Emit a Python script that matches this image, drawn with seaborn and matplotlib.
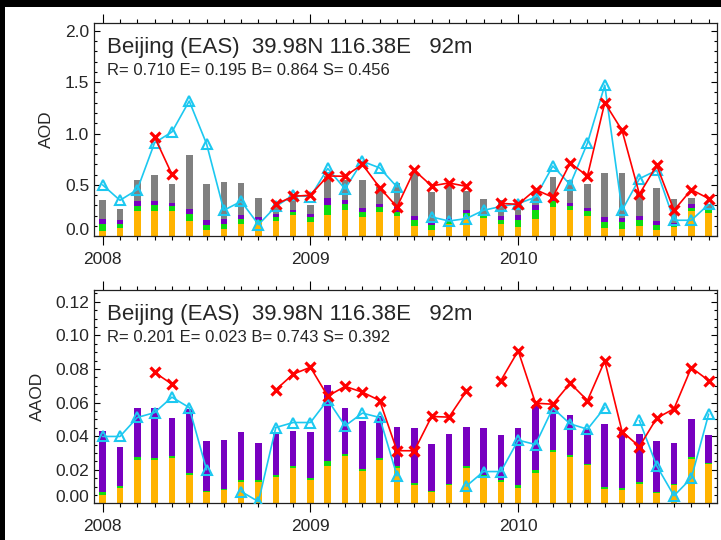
import numpy as np
import pandas as pd
import matplotlib
matplotlib.use("Agg")
import matplotlib.pyplot as plt
from matplotlib.patches import Rectangle
import seaborn as sns

# ---------------- data ----------------
months = np.arange(36)                       # Jan 2008 ... Dec 2010
year_ticks = [0, 12, 24]
year_labels = ["2008", "2009", "2010"]
nan = np.nan

# Top panel (AOD): cumulative tops of the stacked bars
aod_total = [0.35, 0.27, 0.545, 0.60, 0.51, 0.795, 0.51, 0.525, 0.52, 0.37, 0.33, 0.38,
             0.30, 0.59, 0.545, 0.545, 0.48, 0.52, 0.625, 0.43, 0.50, 0.44, 0.367, 0.35,
             0.34, 0.38, 0.577, 0.545, 0.51, 0.62, 0.62, 0.43, 0.47, 0.367, 0.37, 0.31]
aod_purple = [0.17, 0.155, 0.34, 0.34, 0.32, 0.265, 0.155, 0.165, 0.204, 0.19, 0.22, 0.26,
              0.214, 0.373, 0.35, 0.272, 0.311, 0.285, 0.20, 0.146, 0.18, 0.26, 0.215, 0.20,
              0.204, 0.30, 0.38, 0.324, 0.275, 0.188, 0.18, 0.195, 0.149, 0.13, 0.31, 0.27]
aod_green = [0.117, 0.123, 0.29, 0.30, 0.29, 0.214, 0.113, 0.123, 0.165, 0.155, 0.19, 0.24,
             0.185, 0.308, 0.314, 0.233, 0.282, 0.236, 0.155, 0.107, 0.155, 0.23, 0.205, 0.162,
             0.162, 0.253, 0.34, 0.295, 0.246, 0.139, 0.139, 0.155, 0.107, 0.11, 0.28, 0.255]
aod_orange = [0.05, 0.085, 0.243, 0.243, 0.243, 0.146, 0.058, 0.071, 0.117, 0.14, 0.15, 0.204,
              0.136, 0.204, 0.26, 0.185, 0.236, 0.194, 0.10, 0.058, 0.12, 0.188, 0.18, 0.117,
              0.09, 0.172, 0.285, 0.253, 0.20, 0.08, 0.071, 0.097, 0.058, 0.09, 0.25, 0.222]
aod_cyan = [0.50, 0.35, 0.454, 0.91, 1.015, 1.316, 0.90, 0.253, 0.34, 0.114, 0.29, 0.40,
            0.385, 0.66, 0.46, 0.73, 0.665, 0.48, nan, 0.188, 0.149, 0.172, 0.253, 0.29,
            0.318, 0.38, 0.684, 0.503, 0.907, 1.47, 0.253, 0.56, 0.642, 0.156, 0.156, 0.311]
aod_red = [nan, nan, nan, 0.966, 0.603, nan, nan, nan, nan, nan, 0.311, 0.389,
           0.40, 0.587, 0.584, 0.70, 0.474, 0.285, 0.642, 0.49, 0.519, 0.486, nan, 0.32,
           0.311, 0.454, 0.38, 0.713, 0.587, 1.30, 1.03, 0.41, 0.69, 0.253, 0.454, 0.367]

# Bottom panel (AAOD)
aaod_purple = [0.0432, 0.0338, 0.0567, 0.057, 0.0507, 0.056, 0.0368, 0.0374, 0.0424, 0.0358, 0.0427, 0.0433,
               0.0424, 0.0705, 0.057, 0.0491, 0.052, 0.0455, 0.0448, 0.0352, 0.0412, 0.0454, 0.0448, 0.0408,
               0.0448, 0.0586, 0.056, 0.0523, 0.044, 0.0473, 0.0427, 0.0412, 0.0372, 0.0358, 0.0501, 0.0408]
aaod_green = [0.007, 0.0104, 0.0275, 0.0269, 0.0279, 0.018, 0.0076, 0.0086, 0.0136, 0.0136, 0.017, 0.0225,
              0.015, 0.0253, 0.0293, 0.0204, 0.0269, 0.0225, 0.012, 0.0074, 0.0114, 0.0225, 0.017, 0.014,
              0.011, 0.02, 0.0318, 0.0289, 0.0235, 0.0096, 0.009, 0.0124, 0.007, 0.0116, 0.0273, 0.0241]
aaod_orange = [0.0051, 0.0094, 0.0259, 0.0255, 0.0269, 0.0166, 0.0067, 0.008, 0.0128, 0.0127, 0.0156, 0.0213,
               0.0136, 0.0223, 0.0279, 0.0193, 0.0259, 0.0213, 0.0106, 0.0067, 0.0106, 0.0213, 0.016, 0.0126,
               0.0094, 0.018, 0.0308, 0.0275, 0.0229, 0.0086, 0.008, 0.0114, 0.006, 0.0106, 0.0265, 0.0235]
aaod_cyan = [0.0398, 0.0398, 0.0511, 0.054, 0.0632, 0.057, 0.02, nan, 0.007, 0.001, 0.0451, 0.0481,
             0.0481, 0.0616, 0.0461, 0.0537, 0.0511, 0.0164, nan, nan, nan, 0.0102, 0.0189, 0.0189,
             0.0376, 0.035, 0.0567, 0.0473, 0.0441, 0.057, nan, 0.0493, 0.0223, 0.0045, 0.015, 0.0531]
aaod_red = [nan, nan, nan, 0.0779, 0.071, nan, nan, nan, nan, nan, 0.0676, 0.0769,
            0.081, 0.0638, 0.0696, 0.0662, 0.0612, 0.0313, 0.0313, 0.0517, 0.0513, 0.0666, nan, 0.0731,
            0.0908, 0.0596, 0.059, 0.0715, 0.0612, 0.0848, 0.0427, 0.0338, 0.0507, 0.0563, 0.0808, 0.0731]

title_text = "Beijing (EAS)  39.98N 116.38E   92m"
stats_top = "R= 0.710 E= 0.195 B= 0.864 S= 0.456"
stats_bottom = "R= 0.201 E= 0.023 B= 0.743 S= 0.392"

# ---------------- style ----------------
C_GRAY = "#808080"
C_PURPLE = "#7800c0"
C_GREEN = "#10dc10"
C_ORANGE = "#ffb400"
C_CYAN = "#1cc8f0"
C_RED = "#ff0000"

sns.set_style("white")
plt.rcParams["font.family"] = ["Liberation Sans", "DejaVu Sans"]

fig = plt.figure(figsize=(7.21, 5.40), dpi=100)
fig.patch.set_facecolor("white")
L, R = 94 / 721, 717.3 / 721
ax1 = fig.add_axes([L, 1 - 236.3 / 540, R - L, (236.3 - 22.7) / 540])
ax2 = fig.add_axes([L, 1 - 503.3 / 540, R - L, (503.3 - 290) / 540])


def bars(ax, levels, colors):
    for vals, col in zip(levels, colors):
        sns.barplot(x=months, y=vals, native_scale=True, width=0.38, color=col,
                    saturation=1, errorbar=None, linewidth=0, ax=ax, zorder=2)


def seg_line(ax, vals, color, marker, ms, mew, mfc):
    v = np.asarray(vals, dtype=float)
    seg = np.cumsum(np.isnan(v))
    df = pd.DataFrame({"m": months, "v": v, "seg": seg}).dropna()
    sns.lineplot(data=df, x="m", y="v", units="seg", estimator=None, sort=False,
                 color=color, lw=1.2, marker=marker, markersize=ms,
                 markeredgewidth=mew, markeredgecolor=color, markerfacecolor=mfc,
                 ax=ax, zorder=3, legend=False)


bars(ax1, [aod_total, aod_purple, aod_green, aod_orange], [C_GRAY, C_PURPLE, C_GREEN, C_ORANGE])
seg_line(ax1, aod_cyan, C_CYAN, "^", 7.5, 1.5, "none")
seg_line(ax1, aod_red, C_RED, "x", 7.0, 2.3, C_RED)

bars(ax2, [aaod_purple, aaod_green, aaod_orange], [C_PURPLE, C_GREEN, C_ORANGE])
seg_line(ax2, aaod_cyan, C_CYAN, "^", 7.5, 1.5, "none")
seg_line(ax2, aaod_red, C_RED, "x", 7.0, 2.3, C_RED)


def style_axes(ax, ylim, major, major_labels, minor, zero_label, ylabel, ylab_x):
    ax.set_xlim(-0.5, 35.5)
    ax.set_ylim(*ylim)
    ax.set_xticks(year_ticks, year_labels)
    ax.set_xticks(months, minor=True)
    ax.set_yticks(major, major_labels)
    ax.set_yticks(minor, minor=True)
    ax.set_xlabel("")
    ax.set_ylabel(ylabel, fontsize=12.5)
    ax.yaxis.set_label_coords(ylab_x, 0.5)
    ax.tick_params(axis="x", which="both", direction="out", top=True, bottom=True,
                   labelsize=12.5, pad=5, color="black")
    ax.tick_params(axis="x", which="major", length=6.3, width=0.8)
    ax.tick_params(axis="x", which="minor", length=3.0, width=0.8)
    ax.tick_params(axis="y", which="both", direction="in", left=True, right=True,
                   labelsize=12.5, pad=3.5, color="black")
    ax.tick_params(axis="y", which="major", length=4.3, width=0.8)
    ax.tick_params(axis="y", which="minor", length=2.2, width=0.8)
    for t in ax.xaxis.get_minor_ticks():
        t.tick1line.set_color("#2a2aa0")
    for s in ax.spines.values():
        s.set_visible(True)
        s.set_color("#202020")
        s.set_linewidth(0.9)
    ax.annotate(zero_label, xy=(0, 0), xycoords=("axes fraction", "data"),
                xytext=(-3.5, 4.5), textcoords="offset points",
                ha="right", va="center", fontsize=12.5)
    ax.set_facecolor("white")


style_axes(ax1, (0, 2.078), [0, 0.5, 1.0, 1.5, 2.0], ["", "0.5", "1.0", "1.5", "2.0"],
           np.arange(0, 2.05, 0.1), "0.0", "AOD", -0.064)
style_axes(ax2, (0, 0.127), [0, 0.02, 0.04, 0.06, 0.08, 0.10, 0.12],
           ["", "0.02", "0.04", "0.06", "0.08", "0.10", "0.12"],
           np.arange(0, 0.1251, 0.005), "0.00", "AAOD", -0.078)

for ax, stats in ((ax1, stats_top), (ax2, stats_bottom)):
    ax.text(0.021, 0.858, title_text, transform=ax.transAxes, fontsize=16,
            ha="left", va="baseline", zorder=5)
    ax.text(0.021, 0.755, stats, transform=ax.transAxes, fontsize=12,
            ha="left", va="baseline", zorder=5)

# black frame bands (top and left edges of the image)
fig.add_artist(Rectangle((0, 1 - 7 / 540), 1, 7 / 540, transform=fig.transFigure,
                         facecolor="black", edgecolor="none", zorder=20))
fig.add_artist(Rectangle((0, 0), 5 / 721, 1, transform=fig.transFigure,
                         facecolor="black", edgecolor="none", zorder=20))

fig.savefig("out.png", dpi=100, facecolor="white")
